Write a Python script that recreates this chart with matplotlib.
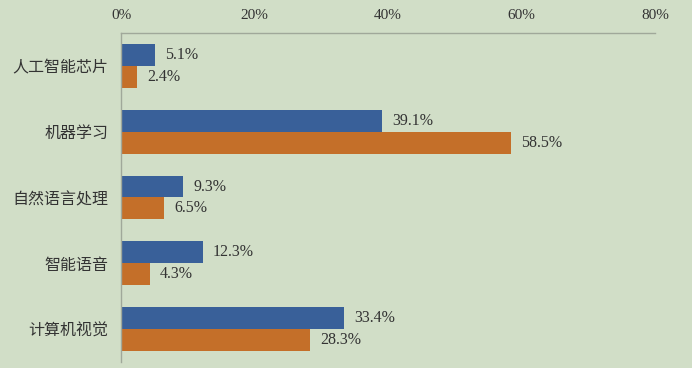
import numpy as np
import matplotlib.pyplot as plt

plt.rcParams['font.family'] = ['Liberation Serif', 'Noto Sans CJK SC']

# 数据
categories = ['人工智能芯片', '机器学习', '自然语言处理', '智能语音', '计算机视觉']
series_blue = [5.1, 39.1, 9.3, 12.3, 33.4]
series_orange = [2.4, 58.5, 6.5, 4.3, 28.3]
xticks = [0, 20, 40, 60, 80]
xtick_labels = ['0%', '20%', '40%', '60%', '80%']

bg = '#d1dec7'
c_blue = '#396099'
c_orange = '#c46f29'
txt = '#333333'

fig = plt.figure(figsize=(6.92, 3.68), dpi=100, facecolor=bg)
ax = fig.add_axes([121/692, 6/368, 534/692, 329/368])
ax.set_facecolor(bg)

y = np.arange(len(categories))
h = 0.333
ax.barh(y - h/2, series_blue, height=h, color=c_blue)
ax.barh(y + h/2, series_orange, height=h, color=c_orange)

for yi, v in zip(y, series_blue):
    ax.text(v + 1.5, yi - h/2, '%.1f%%' % v, va='center', ha='left',
            fontsize=11.5, color=txt)
for yi, v in zip(y, series_orange):
    ax.text(v + 1.5, yi + h/2, '%.1f%%' % v, va='center', ha='left',
            fontsize=11.5, color=txt)

ax.set_xlim(0, 80)
ax.set_ylim(4.5, -0.5)
ax.xaxis.tick_top()
ax.set_xticks(xticks)
ax.set_xticklabels(xtick_labels, fontsize=11, color=txt)
ax.set_yticks(y)
ax.set_yticklabels(categories, fontsize=11.5, color=txt,
                   family=['Noto Sans CJK SC', 'DejaVu Sans'])
ax.tick_params(axis='both', length=0)
ax.tick_params(axis='x', pad=8)
ax.tick_params(axis='y', pad=9)

for s in ['right', 'bottom']:
    ax.spines[s].set_visible(False)
for s in ['top', 'left']:
    ax.spines[s].set_color('#a0a89a')
    ax.spines[s].set_linewidth(1.0)

fig.savefig('out.png', dpi=100, facecolor=bg)
